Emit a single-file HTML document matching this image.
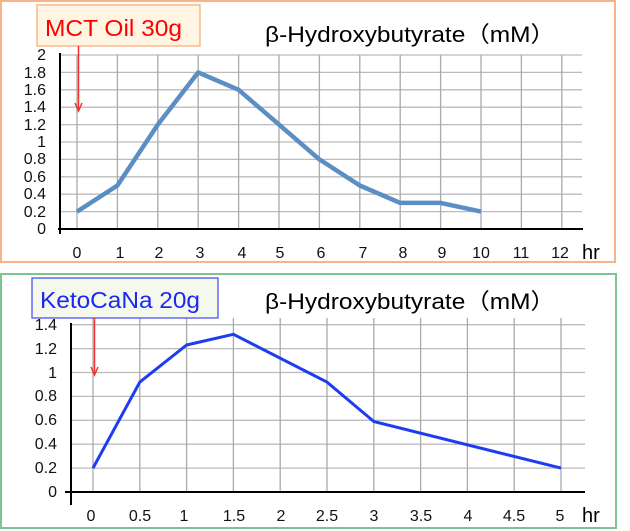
<!DOCTYPE html>
<html><head><meta charset="utf-8"><style>
html,body{margin:0;padding:0;background:#fff;}
svg{display:block;font-family:"Liberation Sans","Noto Sans CJK JP",sans-serif;}
</style></head><body>
<svg width="630" height="531" viewBox="0 0 630 531">
<!-- TOP PANEL -->
<rect x="1" y="1" width="614" height="261" fill="#fff" stroke="#f8b488" stroke-width="2"/>
<g stroke="#bbb" stroke-width="1.3">
<line x1="60" y1="55" x2="582" y2="55"/><line x1="60" y1="72.4" x2="582" y2="72.4"/><line x1="60" y1="89.8" x2="582" y2="89.8"/><line x1="60" y1="107.2" x2="582" y2="107.2"/><line x1="60" y1="124.6" x2="582" y2="124.6"/><line x1="60" y1="142" x2="582" y2="142"/><line x1="60" y1="159.4" x2="582" y2="159.4"/><line x1="60" y1="176.8" x2="582" y2="176.8"/><line x1="60" y1="194.2" x2="582" y2="194.2"/><line x1="60" y1="211.6" x2="582" y2="211.6"/>
</g>
<g stroke="#aaa" stroke-width="1.3">
<line x1="77" y1="55" x2="77" y2="229"/><line x1="117.4" y1="55" x2="117.4" y2="229"/><line x1="157.8" y1="55" x2="157.8" y2="229"/><line x1="198.2" y1="55" x2="198.2" y2="229"/><line x1="238.6" y1="55" x2="238.6" y2="229"/><line x1="279" y1="55" x2="279" y2="229"/><line x1="319.4" y1="55" x2="319.4" y2="229"/><line x1="359.8" y1="55" x2="359.8" y2="229"/><line x1="400.2" y1="55" x2="400.2" y2="229"/><line x1="440.6" y1="55" x2="440.6" y2="229"/><line x1="481" y1="55" x2="481" y2="229"/><line x1="521.4" y1="55" x2="521.4" y2="229"/><line x1="561.8" y1="55" x2="561.8" y2="229"/>
</g>
<line x1="60" y1="53" x2="60" y2="234" stroke="#000" stroke-width="2"/>
<line x1="58" y1="229" x2="583" y2="229" stroke="#000" stroke-width="2"/>
<polyline points="77,211.6 117.4,185.5 157.8,124.6 198.2,72.4 238.6,89.8 279,124.6 319.4,159.4 359.8,185.5 400.2,202.9 440.6,202.9 481,211.6" fill="none" stroke="#5b8fc4" stroke-width="4.5" stroke-linejoin="round"/>
<g font-size="16" fill="#111" text-anchor="end">
<text x="46" y="60">2</text><text x="46" y="78">1.8</text><text x="46" y="95">1.6</text><text x="46" y="112">1.4</text><text x="46" y="130">1.2</text><text x="46" y="147">1</text><text x="46" y="164">0.8</text><text x="46" y="182">0.6</text><text x="46" y="199">0.4</text><text x="46" y="217">0.2</text><text x="46" y="234">0</text>
</g>
<g font-size="16" fill="#111" text-anchor="middle">
<text x="77" y="258">0</text><text x="120" y="258">1</text><text x="159" y="258">2</text><text x="200" y="258">3</text><text x="242" y="258">4</text><text x="280" y="258">5</text><text x="321" y="258">6</text><text x="363" y="258">7</text><text x="403" y="258">8</text><text x="442" y="258">9</text><text x="481" y="258">10</text><text x="521" y="258">11</text><text x="560" y="258">12</text>
</g>
<text x="582" y="259" font-size="20" fill="#000">hr</text>
<text x="265" y="42" font-size="22" fill="#000" textLength="290" lengthAdjust="spacingAndGlyphs">β-Hydroxybutyrate（mM）</text>
<rect x="37" y="5" width="163" height="41" fill="#fff5e2" stroke="#f8b07a" stroke-width="1.3"/>
<text x="45" y="36" font-size="23" fill="#f00" textLength="137" lengthAdjust="spacingAndGlyphs">MCT Oil 30g</text>
<line x1="78.5" y1="46" x2="78.5" y2="110" stroke="#e33" stroke-width="1.5"/>
<polyline points="75,103 78.5,111 82,103" fill="none" stroke="#e33" stroke-width="1.5"/>

<!-- BOTTOM PANEL -->
<rect x="1" y="274" width="615" height="254" fill="#fff" stroke="#7cc490" stroke-width="2"/>
<g stroke="#bbb" stroke-width="1.3">
<line x1="71" y1="324.7" x2="585" y2="324.7"/><line x1="71" y1="348.6" x2="585" y2="348.6"/><line x1="71" y1="372.5" x2="585" y2="372.5"/><line x1="71" y1="396.4" x2="585" y2="396.4"/><line x1="71" y1="420.3" x2="585" y2="420.3"/><line x1="71" y1="444.2" x2="585" y2="444.2"/><line x1="71" y1="468.1" x2="585" y2="468.1"/>
</g>
<g stroke="#aaa" stroke-width="1.3">
<line x1="93" y1="318" x2="93" y2="492"/><line x1="139.8" y1="318" x2="139.8" y2="492"/><line x1="186.6" y1="318" x2="186.6" y2="492"/><line x1="233.4" y1="318" x2="233.4" y2="492"/><line x1="280.2" y1="318" x2="280.2" y2="492"/><line x1="327" y1="318" x2="327" y2="492"/><line x1="373.8" y1="318" x2="373.8" y2="492"/><line x1="420.6" y1="318" x2="420.6" y2="492"/><line x1="467.4" y1="318" x2="467.4" y2="492"/><line x1="514.2" y1="318" x2="514.2" y2="492"/><line x1="561" y1="318" x2="561" y2="492"/>
</g>
<line x1="71" y1="323" x2="71" y2="505" stroke="#000" stroke-width="2"/>
<line x1="65" y1="492" x2="585" y2="492" stroke="#000" stroke-width="2"/>
<polyline points="93,468.1 139.8,382.1 186.6,345 233.4,334.3 327,382.1 373.8,421.5 561,468.1" fill="none" stroke="#1f3df0" stroke-width="3" stroke-linejoin="round"/>
<g font-size="16" fill="#111" text-anchor="end">
<text x="57" y="330">1.4</text><text x="57" y="354">1.2</text><text x="57" y="378">1</text><text x="57" y="401">0.8</text><text x="57" y="425">0.6</text><text x="57" y="449">0.4</text><text x="57" y="473">0.2</text><text x="57" y="497">0</text>
</g>
<g font-size="16" fill="#111" text-anchor="middle">
<text x="91" y="521">0</text><text x="140" y="521">0.5</text><text x="184" y="521">1</text><text x="234" y="521">1.5</text><text x="281" y="521">2</text><text x="327" y="521">2.5</text><text x="374" y="521">3</text><text x="421" y="521">3.5</text><text x="468" y="521">4</text><text x="514" y="521">4.5</text><text x="560" y="521">5</text>
</g>
<text x="582" y="522" font-size="20" fill="#000">hr</text>
<text x="265" y="309" font-size="22" fill="#000" textLength="290" lengthAdjust="spacingAndGlyphs">β-Hydroxybutyrate（mM）</text>
<rect x="32" y="278" width="186" height="40" fill="#f5f8ec" stroke="#4a55f0" stroke-width="1.3"/>
<text x="40" y="308" font-size="23" fill="#1a28f0" textLength="160" lengthAdjust="spacingAndGlyphs">KetoCaNa 20g</text>
<line x1="94.5" y1="318" x2="94.5" y2="374" stroke="#e33" stroke-width="1.5"/>
<polyline points="91,367 94.5,375 98,367" fill="none" stroke="#e33" stroke-width="1.5"/>
</svg>
</body></html>
